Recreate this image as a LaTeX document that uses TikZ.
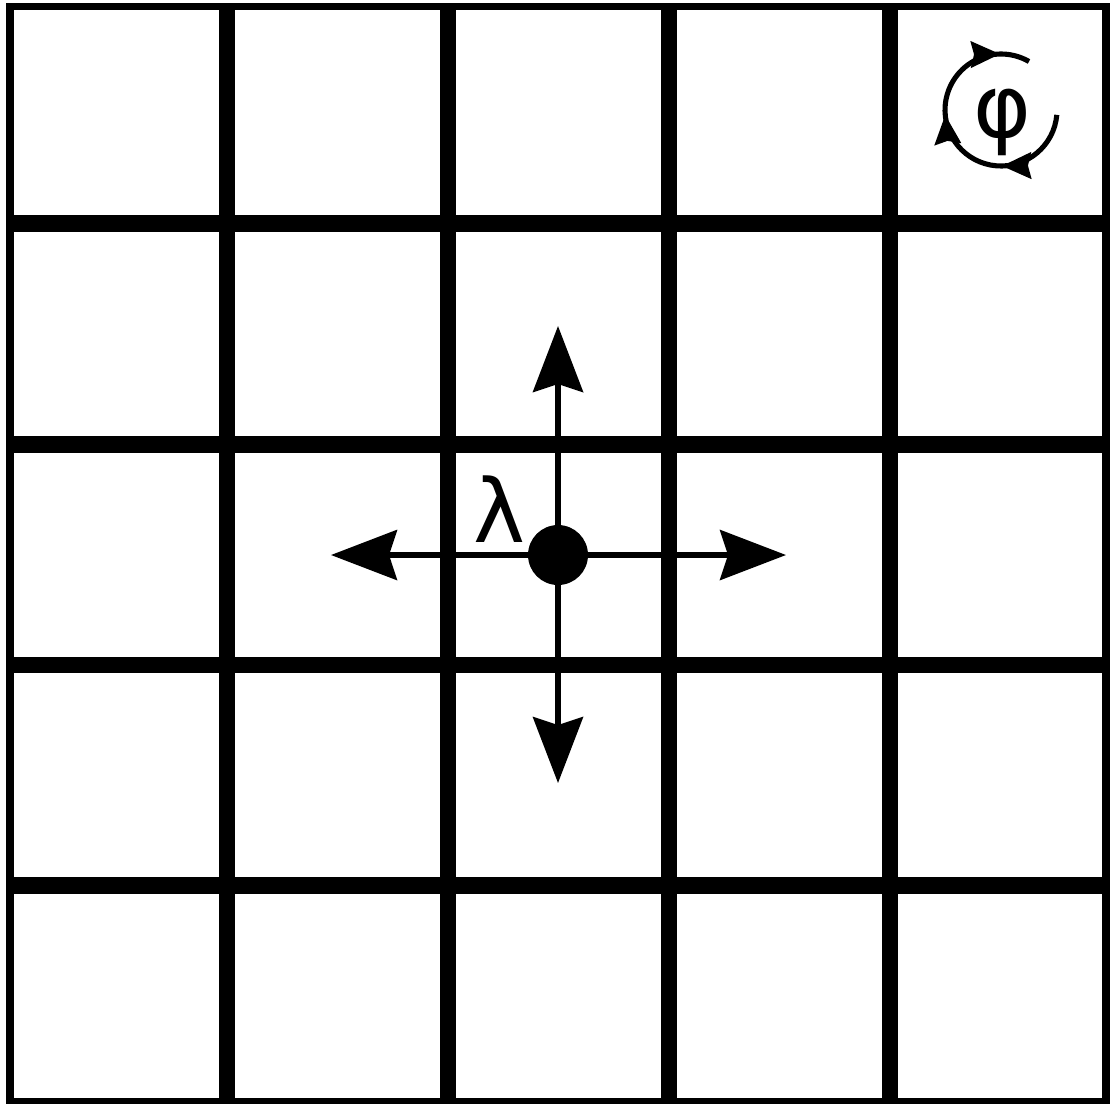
\documentclass[tikz,border=0pt]{standalone}
\usepackage{fontspec}
\setmainfont{DejaVu Sans}
\usetikzlibrary{arrows.meta,decorations.markings}
\begin{document}
\begin{tikzpicture}[x=0.02cm,y=-0.02cm,
  gridline/.style={line width=9.64pt},
  frame/.style={line width=4.5pt},
  move/.style={line width=3pt,-{Stealth[length=1.32cm,width=1cm,inset=0.16cm]}},
  spin/.style={line width=2.9pt,postaction={decorate},
    decoration={markings,
      mark=at position 0.285 with {\arrow{Stealth[length=0.58cm,width=0.52cm,inset=0.06cm]}},
      mark=at position 0.576 with {\arrow{Stealth[length=0.58cm,width=0.52cm,inset=0.06cm]}},
      mark=at position 0.895 with {\arrow{Stealth[length=0.58cm,width=0.52cm,inset=0.06cm]}}}},
  lbl/.style={inner sep=0pt,font=\fontsize{50}{60}\selectfont}]
\useasboundingbox (0,0) rectangle (1114,1103);
\fill[white] (0,0) rectangle (1114,1103);
\foreach \x in {227,448,669,890} \draw[gridline] (\x,6) -- (\x,1102);
\foreach \y in {223.5,444.5,665,885.5} \draw[gridline] (10,\y) -- (1106,\y);
\draw[frame] (10,6.5) rectangle (1106,1102);
% particle and moves
\node[circle,fill,minimum size=1.2cm,inner sep=0pt] (dot) at (558,555) {};
\coordinate (up) at (558,326);
\coordinate (down) at (558,783);
\coordinate (left) at (331,555);
\coordinate (right) at (786,555);
\draw[move] (dot) -- (up);
\draw[move] (dot) -- (down);
\draw[move] (dot) -- (left);
\draw[move] (dot) -- (right);
\node[lbl] (lam) at (499,509) {λ};
% rotation symbol
\coordinate (c) at (1001,110);
\draw[spin] (c) ++(5:56) arc (5:300:56);
\node[lbl] (phi) at (1002,122) {φ};
\end{tikzpicture}
\end{document}
